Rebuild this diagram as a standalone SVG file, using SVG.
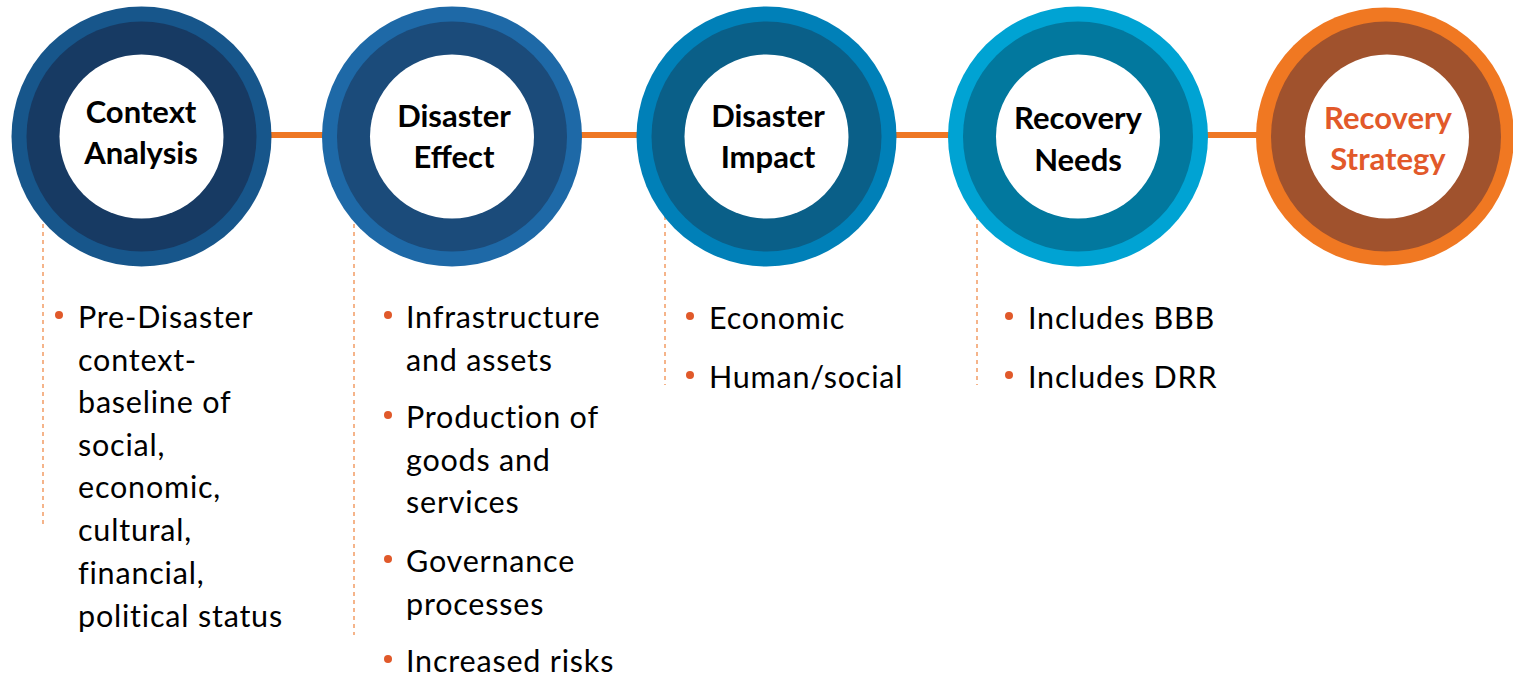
<svg xmlns="http://www.w3.org/2000/svg" width="1513" height="677" viewBox="0 0 1513 677">
<style>
.title{font-family:Lato,"Liberation Sans",sans-serif;font-weight:bold;font-size:31px;text-anchor:middle;fill:#000}
.title.orange{fill:#E2592A}
.body{font-family:Lato,"Liberation Sans",sans-serif;font-size:30.5px;letter-spacing:0.8px;fill:#000}
.dot{fill:#E0592A}
.dash{stroke:#F5B48A;stroke-width:2;stroke-dasharray:4 4;fill:none}
.conn{stroke:#EE7724;stroke-width:6;fill:none}
.white{fill:#fff}
</style>
<rect width="1513" height="677" fill="#fff"/>
<g id="connectors">
<line class="conn" x1="260" y1="135" x2="330" y2="135"/>
<line class="conn" x1="570" y1="135" x2="645" y2="135"/>
<line class="conn" x1="885" y1="135" x2="955" y2="135"/>
<line class="conn" x1="1195" y1="135" x2="1265" y2="135"/>
<line class="dash" x1="43" y1="200" x2="43" y2="525"/>
<line class="dash" x1="354" y1="200" x2="354" y2="635"/>
<line class="dash" x1="665" y1="200" x2="665" y2="385"/>
<line class="dash" x1="977" y1="200" x2="977" y2="385"/>
</g>
<g id="node-context-analysis">
<circle cx="141.5" cy="136.5" r="130" fill="#17568B"/>
<circle cx="141.5" cy="136.5" r="115" fill="#173A63"/>
<circle cx="141.5" cy="136.5" r="82" class="white"/>
<text class="title" x="141" y="123">Context</text>
<text class="title" x="141" y="164">Analysis</text>
</g>
<g id="node-disaster-effect">
<circle cx="452" cy="136.5" r="130" fill="#1E69A7"/>
<circle cx="452" cy="136.5" r="115" fill="#1B4B7A"/>
<circle cx="452" cy="136.5" r="82" class="white"/>
<text class="title" x="454" y="127">Disaster</text>
<text class="title" x="454" y="168">Effect</text>
</g>
<g id="node-disaster-impact">
<circle cx="766.5" cy="136.5" r="130" fill="#0080B8"/>
<circle cx="766.5" cy="136.5" r="115" fill="#0A5F88"/>
<circle cx="766.5" cy="136.5" r="82" class="white"/>
<text class="title" x="768" y="127">Disaster</text>
<text class="title" x="768" y="168">Impact</text>
</g>
<g id="node-recovery-needs">
<circle cx="1078" cy="136.5" r="130" fill="#00A3D3"/>
<circle cx="1078" cy="136.5" r="115" fill="#02789E"/>
<circle cx="1078" cy="136.5" r="82" class="white"/>
<text class="title" x="1078" y="129">Recovery</text>
<text class="title" x="1078" y="171">Needs</text>
</g>
<g id="node-recovery-strategy">
<circle cx="1385" cy="136.5" r="129" fill="#F07822"/>
<circle cx="1386" cy="136.5" r="115" fill="#A0522D"/>
<circle cx="1387" cy="136.5" r="82" class="white"/>
<text class="title orange" x="1388" y="129">Recovery</text>
<text class="title orange" x="1388" y="170">Strategy</text>
</g>
<g id="list-context">
<circle class="dot" cx="59" cy="315" r="4"/>
<text class="body" x="78" y="328">Pre-Disaster</text>
<text class="body" x="78" y="371">context-</text>
<text class="body" x="78" y="413">baseline of</text>
<text class="body" x="78" y="456">social,</text>
<text class="body" x="78" y="498">economic,</text>
<text class="body" x="78" y="541">cultural,</text>
<text class="body" x="78" y="584">financial,</text>
<text class="body" x="78" y="627">political status</text>
</g>
<g id="list-effect">
<circle class="dot" cx="388" cy="315" r="4"/>
<text class="body" x="406" y="328">Infrastructure</text>
<text class="body" x="406" y="371">and assets</text>
<circle class="dot" cx="388" cy="415" r="4"/>
<text class="body" x="406" y="428">Production of</text>
<text class="body" x="406" y="471">goods and</text>
<text class="body" x="406" y="513">services</text>
<circle class="dot" cx="388" cy="559" r="4"/>
<text class="body" x="406" y="572">Governance</text>
<text class="body" x="406" y="615">processes</text>
<circle class="dot" cx="388" cy="659" r="4"/>
<text class="body" x="406" y="672">Increased risks</text>
</g>
<g id="list-impact">
<circle class="dot" cx="690" cy="316" r="4"/>
<text class="body" x="709" y="329">Economic</text>
<circle class="dot" cx="690" cy="375" r="4"/>
<text class="body" x="709" y="388">Human/social</text>
</g>
<g id="list-needs">
<circle class="dot" cx="1009" cy="316" r="4"/>
<text class="body" x="1028" y="329">Includes BBB</text>
<circle class="dot" cx="1009" cy="375" r="4"/>
<text class="body" x="1028" y="388">Includes DRR</text>
</g>
</svg>
